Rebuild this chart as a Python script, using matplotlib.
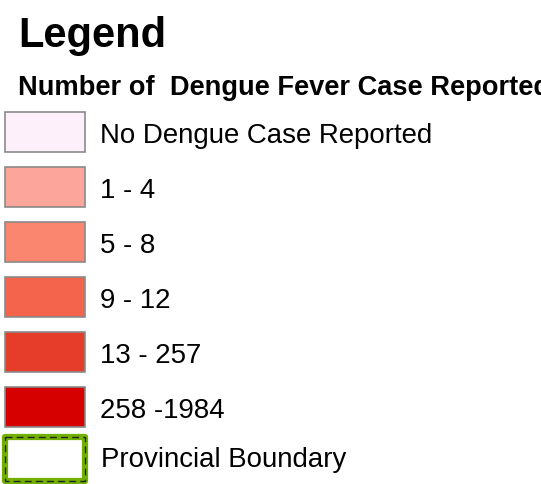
import matplotlib
matplotlib.use('Agg')
import matplotlib.pyplot as plt
from matplotlib.patches import Rectangle

plt.rcParams['font.family'] = ['Liberation Sans', 'DejaVu Sans']

# legend classes
class_labels = ['No Dengue Case Reported', '1 - 4', '5 - 8', '9 - 12', '13 - 257', '258 -1984']
class_colors = ['#fdf0fb', '#fca59b', '#fa8670', '#f4634b', '#e63d2a', '#d70000']
boundary_label = 'Provincial Boundary'

fig = plt.figure(figsize=(5.41, 4.85), dpi=100)
ax = fig.add_axes([0, 0, 1, 1])
ax.set_xlim(0, 541)
ax.set_ylim(485, 0)
ax.axis('off')

ax.text(18, 47, 'Legend', fontsize=30, fontweight='bold', va='baseline', ha='left')
ax.text(18, 95, 'Number of  Dengue Fever Case Reported', fontsize=19.6,
        fontweight='bold', va='baseline', ha='left', clip_on=False)

top0 = 113
step = 55
box_w, box_h = 80, 40
for i, (lab, col) in enumerate(zip(class_labels, class_colors)):
    y = top0 + i * step
    ax.add_patch(Rectangle((5, y), box_w, box_h, facecolor=col,
                           edgecolor='#8a8a8a', linewidth=1.2))
    ax.text(100, y + 30.5, lab, fontsize=19.9, va='baseline', ha='left')

# provincial boundary symbol
y = top0 + len(class_labels) * step
ax.add_patch(Rectangle((5, y - 5), box_w, box_h + 4, facecolor='white',
                       edgecolor='#72b000', linewidth=4.5, joinstyle='round'))
ax.add_patch(Rectangle((5, y - 5), box_w, box_h + 4, facecolor='none',
                       edgecolor='#222222', linewidth=1.0, linestyle=(0, (5, 3))))
ax.text(101, y + 24, boundary_label, fontsize=19.9, va='baseline', ha='left')

fig.savefig('out.png', dpi=100)
